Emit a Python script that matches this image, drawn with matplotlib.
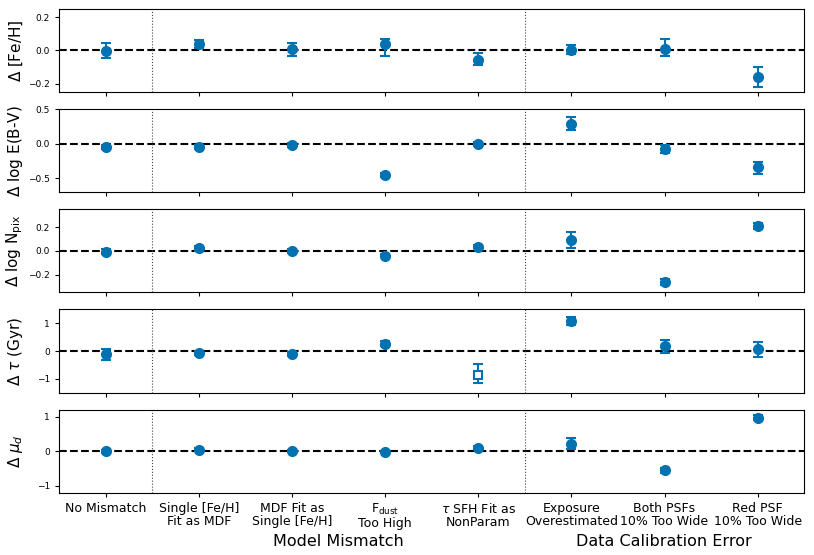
import numpy as np
import matplotlib
matplotlib.use("Agg")
import matplotlib.pyplot as plt

# categories along the x axis
categories = ["No Mismatch", "Single [Fe/H]\nFit as MDF", "MDF Fit as\nSingle [Fe/H]",
              "F$_{\\rm dust}$\nToo High", "$\\tau$ SFH Fit as\nNonParam",
              "Exposure\nOverestimated", "Both PSFs\n10% Too Wide", "Red PSF\n10% Too Wide"]

# Delta [Fe/H]
feh = [-0.002, 0.038, 0.006, 0.038, -0.056, 0.004, 0.006, -0.159]
feh_lo = [0.044, 0.024, 0.042, 0.070, 0.032, 0.026, 0.040, 0.058]
feh_hi = [0.046, 0.026, 0.036, 0.028, 0.042, 0.028, 0.064, 0.059]

# Delta log E(B-V)
ebv = [-0.047, -0.043, -0.024, -0.45, -0.005, 0.28, -0.07, -0.34]
ebv_lo = [0.03, 0.03, 0.03, 0.03, 0.03, 0.08, 0.07, 0.09]
ebv_hi = [0.03, 0.03, 0.03, 0.03, 0.03, 0.11, 0.05, 0.08]

# Delta log Npix
npix = [-0.006, 0.02, 0.0, -0.04, 0.036, 0.093, -0.259, 0.213]
npix_lo = [0.02, 0.02, 0.015, 0.015, 0.015, 0.068, 0.025, 0.025]
npix_hi = [0.02, 0.02, 0.015, 0.015, 0.015, 0.065, 0.025, 0.025]

# Delta tau (Gyr)
tau = [-0.11, -0.06, -0.11, 0.27, -0.86, 1.08, 0.19, 0.07]
tau_lo = [0.21, 0.08, 0.08, 0.1, 0.31, 0.15, 0.25, 0.27]
tau_hi = [0.19, 0.08, 0.08, 0.1, 0.41, 0.15, 0.20, 0.24]

# Delta mu_d
mud = [0.0, 0.05, 0.01, -0.02, 0.1, 0.22, -0.55, 0.97]
mud_lo = [0.05, 0.05, 0.04, 0.04, 0.04, 0.15, 0.08, 0.08]
mud_hi = [0.05, 0.05, 0.04, 0.04, 0.04, 0.15, 0.08, 0.08]

panels = [
    (feh, feh_lo, feh_hi, "$\\Delta$ [Fe/H]", (-0.25, 0.25), [-0.2, 0.0, 0.2]),
    (ebv, ebv_lo, ebv_hi, "$\\Delta$ log E(B-V)", (-0.7, 0.5), [-0.5, 0.0, 0.5]),
    (npix, npix_lo, npix_hi, "$\\Delta$ log N$_{\\rm pix}$", (-0.35, 0.35), [-0.2, 0.0, 0.2]),
    (tau, tau_lo, tau_hi, "$\\Delta$ $\\tau$ (Gyr)", (-1.5, 1.5), [-1, 0, 1]),
    (mud, mud_lo, mud_hi, "$\\Delta$ $\\mu_d$", (-1.2, 1.2), [-1, 0, 1]),
]

color = "#0072B2"
x = np.arange(len(categories))

fig, axes = plt.subplots(5, 1, figsize=(8.14, 5.55), dpi=100, sharex=True)
fig.subplots_adjust(left=0.0725, right=0.988, top=0.984, bottom=0.112, hspace=0.205)

for k, (ax, (vals, lo, hi, label, ylim, yticks)) in enumerate(zip(axes, panels)):
    vals = np.array(vals)
    lo = np.array(lo)
    hi = np.array(hi)
    for i in range(len(x)):
        # the tau SFH case in the tau panel is shown as an open square
        if k == 3 and i == 4:
            ax.errorbar(x[i], vals[i], yerr=[[lo[i]], [hi[i]]], fmt='s', color=color,
                        mfc='white', mec=color, mew=1.5, ms=6, capsize=3.5,
                        elinewidth=1.5, capthick=1.5)
        else:
            ax.errorbar(x[i], vals[i], yerr=[[lo[i]], [hi[i]]], fmt='o', color=color,
                        ms=7, capsize=3.5, elinewidth=1.5, capthick=1.5)
    ax.axhline(0, color='black', linestyle='--', linewidth=1.5, zorder=0)
    ax.axvline(0.5, color='#444444', linestyle=':', linewidth=0.8)
    ax.axvline(4.5, color='#444444', linestyle=':', linewidth=0.8)
    ax.set_xlim(-0.5, 7.5)
    ax.set_ylim(*ylim)
    ax.set_yticks(yticks)
    ax.tick_params(axis='both', labelsize=6.5, length=3)
    ax.set_ylabel(label, fontsize=11, labelpad=2)

axes[-1].set_xticks(x)
axes[-1].set_xticklabels(categories, fontsize=9, linespacing=1.05)
axes[-1].tick_params(axis='x', labelsize=9)
fig.align_ylabels(axes)

fig.text(0.416, 0.017, "Model Mismatch", ha='center', va='baseline', fontsize=11.5)
fig.text(0.816, 0.017, "Data Calibration Error", ha='center', va='baseline', fontsize=11.5)

plt.savefig("out.png", dpi=100)
